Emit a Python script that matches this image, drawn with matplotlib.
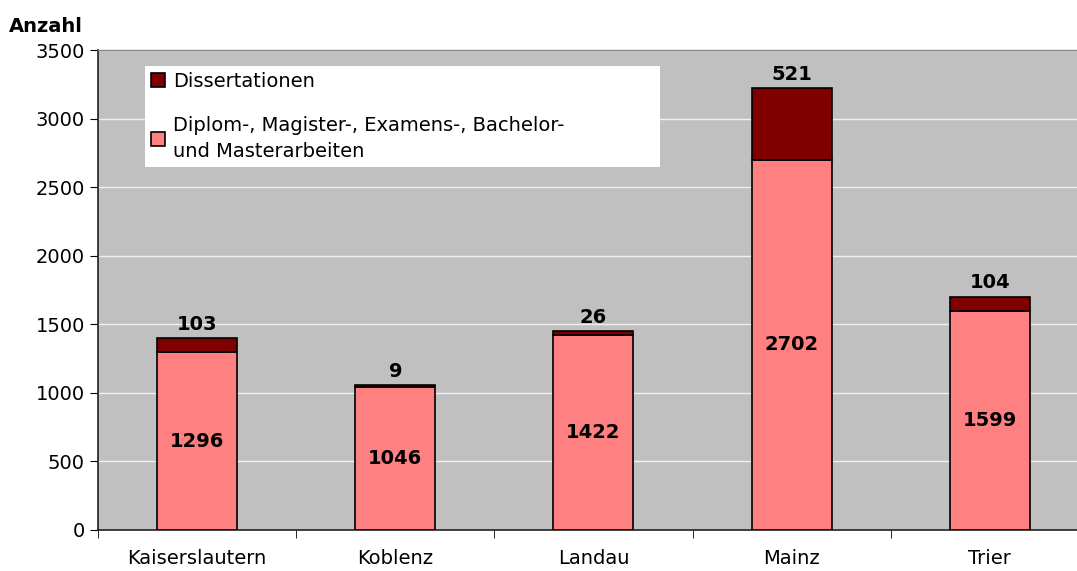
import numpy as np
from matplotlib import pyplot as plt
from matplotlib.ticker import FixedLocator

categories = ["Kaiserslautern", "Koblenz", "Landau", "Mainz", "Trier"]
arbeiten = [1296, 1046, 1422, 2702, 1599]
dissertationen = [103, 9, 26, 521, 104]
yticks = [0, 500, 1000, 1500, 2000, 2500, 3000, 3500]

PINK = "#FF8080"
DARK = "#800000"
BG = "#C0C0C0"


def main() -> None:
    plt.rcParams["font.family"] = ["DejaVu Sans"]
    fig = plt.figure(figsize=(10.77, 5.71), dpi=100)
    # plot area runs a bit past the right edge of the picture, as in the original
    ax = fig.add_axes([0.091, 0.072, 0.920, 0.840])
    ax.set_facecolor(BG)

    x = np.arange(len(categories))
    width = 0.404
    ax.bar(x, arbeiten, width, color=PINK, edgecolor="black", linewidth=1.2,
           label="Diplom-, Magister-, Examens-, Bachelor-\nund Masterarbeiten", zorder=3)
    ax.bar(x, dissertationen, width, bottom=arbeiten, color=DARK, edgecolor="black",
           linewidth=1.2, label="Dissertationen", zorder=3)

    for xi, a, d in zip(x, arbeiten, dissertationen):
        ax.text(xi, a / 2, str(a), ha="center", va="center", fontsize=14,
                fontweight="bold", zorder=4)
        ax.annotate(str(d), (xi, a + d), xytext=(0, 3), textcoords="offset points",
                    ha="center", va="bottom", fontsize=14, fontweight="bold", zorder=4)

    ax.set_xlim(-0.5, len(categories) - 0.5)
    ax.set_ylim(0, 3500)
    ax.set_yticks(yticks)
    ax.set_xticks(x)
    ax.set_xticklabels(categories, fontsize=14)
    ax.xaxis.set_minor_locator(FixedLocator(np.arange(-0.5, len(categories), 1.0)))
    ax.tick_params(axis="x", which="major", length=0, pad=14)
    ax.tick_params(axis="x", which="minor", length=6, direction="out")
    ax.tick_params(axis="y", labelsize=14, length=6, direction="out")
    ax.yaxis.grid(True, color="#F0F0F0", linewidth=1.0, zorder=0)
    ax.set_axisbelow(True)
    ax.spines["right"].set_visible(False)
    ax.spines["top"].set_color("#8C8C8C")
    ax.spines["top"].set_linewidth(1.0)
    for side in ("left", "bottom"):
        ax.spines[side].set_linewidth(1.2)
        ax.spines[side].set_color("#202020")

    handles, labels = ax.get_legend_handles_labels()
    leg = ax.legend(handles[::-1], labels[::-1], loc="upper left",
                    bbox_to_anchor=(0.0474, 0.967, 0.520, 0.0), mode="expand",
                    fontsize=14, frameon=True, fancybox=False, framealpha=1,
                    edgecolor="white", handlelength=0.75, handleheight=0.75,
                    handletextpad=0.4, labelspacing=1.3, borderpad=0.3,
                    borderaxespad=0)
    leg.get_frame().set_linewidth(0)
    for t in leg.get_texts():
        t.set_linespacing(1.45)

    fig.text(0.008, 0.953, "Anzahl", fontsize=14, fontweight="bold", va="center")

    fig.savefig("out.png", dpi=100, facecolor="white")


if __name__ == "__main__":
    main()
